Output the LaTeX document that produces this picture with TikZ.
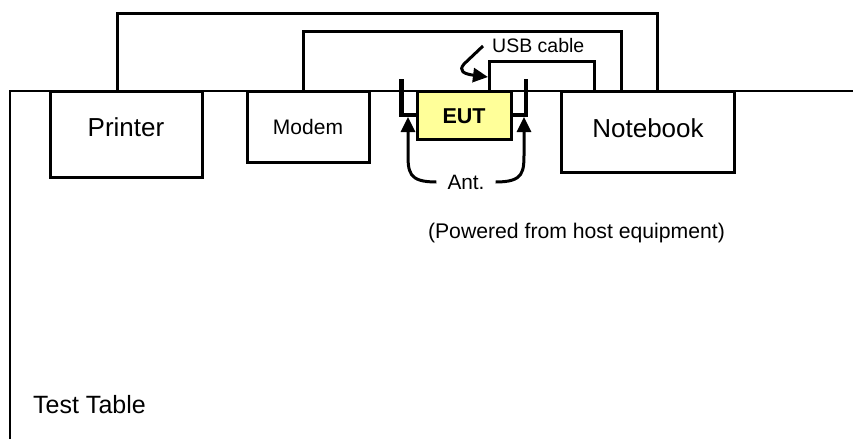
\documentclass[tikz,border=0pt]{standalone}
\usepackage{fontspec}
\setmainfont{Liberation Sans}
\usetikzlibrary{arrows.meta}

\begin{document}
\begin{tikzpicture}[x=1pt,y=-1pt,
    unitbox/.style={draw,line width=3pt,fill=white,inner sep=0pt},
    cable/.style={line width=3pt},
    antenna/.style={line width=4.5pt},
    pointer/.style={line width=3pt,-{Triangle[length=15pt,width=14pt]}},
    bigtext/.style={font=\fontsize{26}{30}\selectfont},
    midtext/.style={font=\fontsize{21}{25}\selectfont}]

\useasboundingbox (0,0) rectangle (853,439);

% test table
\draw[line width=2.2pt] (10,439) -- (10,91) -- (853,91);

\node[unitbox,minimum width=152pt,minimum height=86pt] (printer) at (126,134) {};
\node[unitbox,minimum width=122pt,minimum height=71pt] (modem) at (308,126.5) {};
\node[unitbox,minimum width=173pt,minimum height=81pt] (notebook) at (647.5,131.5) {};
\node[unitbox,fill={rgb,255:red,255;green,255;blue,153},minimum width=94pt,minimum height=48pt] (eut) at (464,115) {};

\node[bigtext] (printertext) at (126,127) {Printer};
\node[midtext] (modemtext) at (308,127) {Modem};
\node[bigtext] (notebooktext) at (648,128) {Notebook};
\node[midtext,font=\fontsize{21.5}{25}\selectfont\bfseries] (euttext) at (464,116) {EUT};

% cables
\draw[cable] ([xshift=-9pt]printer.north) -- ++(0,-76) -| ([xshift=9.5pt]notebook.north);
\draw[cable] ([xshift=-5pt]modem.north) -- ++(0,-58) -| ([xshift=-26.5pt]notebook.north);
\draw[cable] ([xshift=25pt]eut.north) -- ++(0,-28) -| ([xshift=-53.5pt]notebook.north);

% antennas
\coordinate (antL) at (401.5,79);
\coordinate (antR) at (526,79);
\draw[antenna] ([yshift=25.5pt]eut.south west) -| (antL);
\draw[antenna] ([yshift=25.5pt]eut.south east) -| (antR);

\node[midtext,font=\fontsize{20.8}{25}\selectfont,inner sep=11pt] (ant) at (466,182) {Ant.};
\coordinate (tipL) at (408,117);
\coordinate (tipR) at (524,117);
\draw[pointer] (ant.west) .. controls (408,182) and (408,172) .. (408,152) -- (tipL);
\draw[pointer] (ant.east) .. controls (524,182) and (524,172) .. (524,152) -- (tipR);

\node[font=\fontsize{19.5}{23}\selectfont,anchor=west,inner sep=0pt] (usb) at (492,46) {USB cable};
\coordinate (usbtip) at (488,77);
\draw[pointer] ([xshift=-9pt]usb.west) -- (464,64) .. controls (458,71) and (464,74) .. (usbtip);

\node[midtext,font=\fontsize{21.2}{25}\selectfont] (power) at (576.5,233) {(Powered from host equipment)};
\node[font=\fontsize{25}{30}\selectfont,anchor=west,inner sep=0pt] (table) at (33,405) {Test Table};

\end{tikzpicture}
\end{document}
